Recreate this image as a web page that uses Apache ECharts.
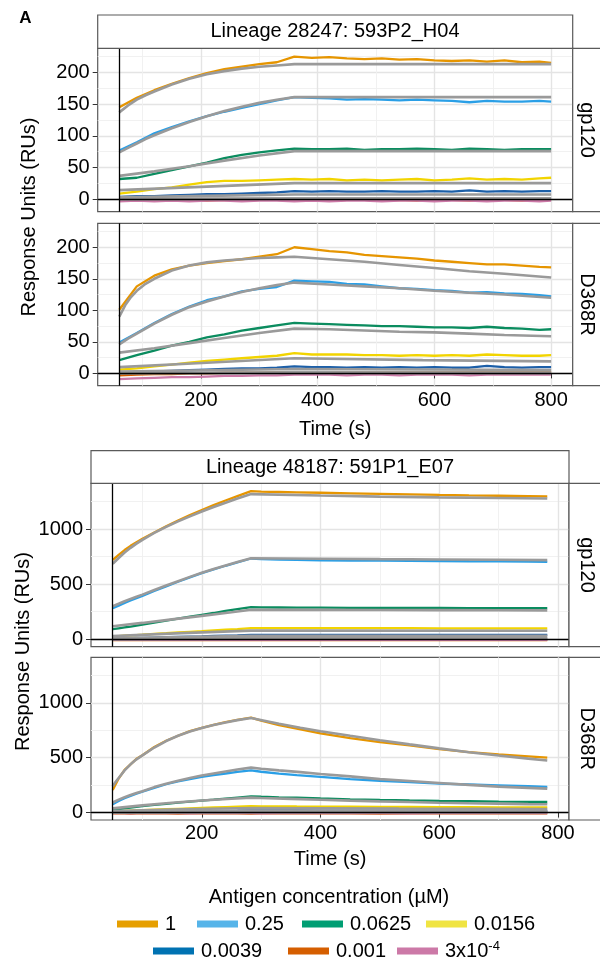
<!DOCTYPE html>
<html><head><meta charset="utf-8">
<script src="https://cdn.jsdelivr.net/npm/echarts@6/dist/echarts.min.js"></script>
<style>html,body{margin:0;padding:0;background:#fff}#c{width:600px;height:964px}</style>
</head><body><div id="c"></div>
<script>
// ---------- categories / labels ----------
const concentrations = ['1', '0.25', '0.0625', '0.0156', '0.0039', '0.001', '3x10-4'];
const lineColors = ['#E69500', '#2A9FE6', '#0B8C5F', '#F2D400', '#1C5FA8', '#D55E00', '#CC79A7'];
const keyColors  = ['#E69F00', '#56B4E9', '#009E73', '#F0E442', '#0072B2', '#D55E00', '#CC79A7'];
const lineageTop = 'Lineage 28247: 593P2_H04';
const lineageBot = 'Lineage 48187: 591P1_E07';
const antigens = ['gp120', 'D368R'];

// ---------- tick values ----------
const xTicks = [200, 400, 600, 800];
const xMinor = [100, 300, 500, 700];
const yTicksTop = [0, 50, 100, 150, 200];
const yMinorTop = [25, 75, 125, 175, 225];
const yTicksBot = [0, 500, 1000];
const yMinorBot = [250, 750, 1250];

// association start (vertical reference line)
const startTop = 60;
const startBot = 50;

// ---------- Lineage 28247 : sensorgram times ----------
const tTop = [60,90,120,150,180,210,240,270,300,330,360,390,420,450,480,510,540,570,600,630,660,690,720,750,780,800];

// gp120 measured (one row per concentration)
const topGp120Data = [
  [145,160,172,182,191,199,205,209,213,216,225,223,224,222,221,222,220,221,219,218,219,217,219,216,217,215],
  [77,90,104,114,123,131,138,144,150,156,161,160,159,157,158,157,156,157,156,155,153,155,154,154,155,154],
  [32,34,40,46,52,58,65,70,74,77,80,79,79,80,78,79,79,80,79,78,80,79,78,79,79,79],
  [9,12,16,19,23,27,29,29,30,31,32,31,32,30,31,30,31,32,30,31,33,31,32,31,33,34],
  [4,5,5,6,7,8,8,9,10,11,13,12,13,12,12,13,12,12,13,12,14,12,13,12,13,13],
  [-2,-1,-2,-1,-1,-2,-1,-2,-1,-1,-2,-1,-2,-1,-1,-2,-1,-2,-1,-1,-2,-1,-1,-2,-1,-1],
  [-3,-2,-3,-2,-3,-2,-2,-3,-2,-2,-3,-2,-3,-2,-2,-3,-2,-2,-3,-2,-2,-3,-2,-2,-3,-2]
];
const topGp120FitT = [
  [60,75,90,105,120,150,180,210,240,270,300,330,360,800],
  [60,75,90,105,120,150,180,210,240,270,300,330,360,800],
  [60,120,180,240,300,360,800],
  [60,210,360,800],
  [60,210,360,800],
  [60,360,800],
  [60,360,800]
];
const topGp120FitV = [
  [137,148,157,164,170,181,190,197,202,206,209,211,213,213],
  [74,81,88,95,101,112,122,131,139,146,152,157,161,161],
  [37,44,52,61,69,76,76],
  [14.5,20,25.5,25.5],
  [3,5.5,7.5,7.5],
  [0.5,1.5,1.5],
  [0.2,0.8,0.8]
];

// D368R measured
const topD368RData = [
  [101,138,155,165,171,175,178,181,185,189,200,197,194,192,188,186,184,182,179,177,175,173,173,171,169,168],
  [49,64,80,94,106,116,122,130,134,137,147,146,145,142,141,138,135,134,132,131,128,129,127,126,124,122],
  [21,29,36,44,50,57,62,68,72,76,80,79,78,77,76,75,75,74,73,73,72,74,72,71,69,70],
  [6,8,11,14,17,20,22,24,26,28,32,30,30,30,29,29,28,29,28,29,28,30,29,28,28,29],
  [1,2,3,4,5,6,7,8,8,9,11,10,10,9,10,9,10,9,10,9,9,12,10,9,10,10],
  [-3,-2,-1,-1,0,0,1,1,1,2,2,2,2,2,2,2,2,2,2,2,2,2,2,2,2,2],
  [-9,-8,-7,-6,-6,-5,-4,-4,-3,-3,-2,-2,-2,-3,-2,-2,-3,-2,-2,-2,-3,-2,-2,-2,-2,-2]
];
const topD368RFitT = [
  [60,70,80,90,105,120,150,180,210,240,270,300,330,360,420,480,540,600,660,720,800],
  [60,75,90,105,120,150,180,210,240,270,300,330,360,420,480,540,600,660,720,800],
  [60,120,180,240,300,360,420,480,540,600,660,720,800],
  [60,210,360,580,800],
  [60,210,360,580,800],
  [60,360,800],
  [60,360,800]
];
const topD368RFitV = [
  [90,108,121,131,142,150,163,171,176,179,181,183,184,185,181,177,172,167,162,158,152],
  [46,55,63,71,79,93,105,114,122,129,135,140,144,141,138,135,131,128,125,120],
  [33,40,48,56,64,71,70,68,66,65,63,61,59],
  [10,17,24,21,19],
  [3,5,7,6.3,5.5],
  [0.5,1.8,1.5],
  [0.2,0.6,0.5]
];

// ---------- Lineage 48187 ----------
const tBot = [50,60,70,80,90,100,120,140,160,180,200,220,240,260,283,300,330,360,400,450,500,550,600,650,700,750,782];

const botGp120Data = [
  [720,765,810,848,880,912,970,1025,1078,1128,1173,1218,1260,1300,1345,1340,1337,1334,1330,1325,1320,1315,1310,1306,1303,1300,1297],
  [282,305,330,352,373,394,438,480,522,562,600,635,667,698,733,727,723,720,717,715,713,711,710,708,707,705,703],
  [91,99,107,115,124,132,150,168,186,204,221,238,258,274,291,289,288,287,286,285,285,284,284,283,283,282,282],
  [25,28,32,35,38,41,48,54,61,67,73,80,86,92,100,100,100,100,100,100,100,100,99,99,99,99,99],
  [5,6,8,9,11,12,15,18,21,24,26,29,32,35,40,40,40,40,40,40,40,40,40,40,40,40,40],
  [-7,-8,-8,-9,-8,-7,-8,-8,-9,-8,-8,-7,-8,-9,-8,-8,-7,-8,-8,-9,-8,-8,-7,-8,-8,-9,-8],
  [-5,-5,-6,-5,-4,-5,-5,-6,-5,-5,-4,-5,-5,-6,-5,-5,-5,-4,-5,-6,-5,-5,-5,-4,-5,-5,-5]
];
const botGp120FitT = [
  [50,60,70,80,90,100,120,140,160,180,200,220,240,260,283,400,500,600,700,782],
  [50,60,70,80,90,100,120,140,160,180,200,220,240,260,283,400,500,600,700,782],
  [50,100,150,200,250,283,400,500,600,700,782],
  [50,166,283,782],
  [50,283,782],
  [50,283,782],
  [50,283,782]
];
const botGp120FitV = [
  [685,738,787,830,868,903,965,1020,1070,1116,1160,1200,1240,1278,1318,1305,1295,1288,1282,1278],
  [300,322,345,366,386,405,447,487,527,566,603,638,670,701,735,731,727,724,721,718],
  [118,148,180,212,245,267,266,265,264,263,262],
  [28,55,78,77],
  [8,30,30],
  [3,10,10],
  [1,4,4]
];

const botD368RData = [
  [205,310,390,440,490,522,598,655,700,742,773,800,825,846,866,838,798,766,722,678,643,612,578,552,530,512,500],
  [75,105,130,152,172,190,225,258,285,305,325,341,356,370,385,372,355,342,325,305,290,278,264,256,248,240,233],
  [25,32,39,46,52,58,70,80,90,99,108,117,127,137,148,144,139,135,128,121,115,110,106,103,100,98,96],
  [10,12,14,17,19,21,26,30,34,38,42,46,50,54,58,57,56,55,54,53,52,51,50,49,48,48,47],
  [3,4,5,5,6,7,8,9,10,12,13,14,16,17,20,19,19,19,18,18,18,17,17,17,16,16,16],
  [-8,-7,-8,-9,-8,-8,-7,-8,-9,-8,-8,-8,-7,-8,-9,-8,-8,-7,-8,-8,-9,-8,-8,-7,-8,-8,-8],
  [-6,-5,-6,-7,-6,-6,-5,-6,-6,-7,-6,-5,-6,-6,-6,-7,-6,-5,-6,-6,-6,-7,-6,-6,-5,-6,-6]
];
const botD368RFitT = [
  [50,55,60,70,80,90,100,120,140,160,180,200,220,240,260,283,330,366,400,450,500,550,600,650,700,750,782],
  [50,60,70,80,90,100,120,140,160,180,200,220,240,260,283,300,330,366,400,450,500,550,600,650,700,750,782],
  [50,100,150,200,250,283,300,350,400,450,500,550,600,650,700,750,782],
  [50,166,283,532,782],
  [50,166,283,532,782],
  [50,283,782],
  [50,283,782]
];
const botD368RFitV = [
  [240,280,315,385,440,485,522,593,652,700,740,772,798,822,843,862,810,773,742,700,660,622,585,550,520,492,475],
  [92,118,140,160,178,195,232,262,290,315,338,356,374,392,410,400,385,369,352,330,305,288,270,252,236,225,218],
  [38,65,90,110,126,136,133,125,117,109,102,96,90,85,81,77,75],
  [14,30,42,37,33],
  [4,11,17,15,14],
  [2,8,7],
  [1,3,3]
];

// ---------- layout ----------
const FONT = "'Liberation Sans', Arial, Helvetica, sans-serif";
const BORDER = '#5a5a5a';
const panels = [
  {left: 97.7, top: 48.3, width: 475, height: 163.4, xr: [23, 837], yr: [-19.5, 238], showX: false, yt: yTicksTop, ym: yMinorTop},
  {left: 97.7, top: 223.3, width: 475, height: 162.4, xr: [23, 837], yr: [-19.5, 238], showX: true, yt: yTicksTop, ym: yMinorTop, gap: 34, lm: 5},
  {left: 91, top: 483.3, width: 478, height: 163.4, xr: [13.4, 818.6], yr: [-68, 1416], showX: false, yt: yTicksBot, ym: yMinorBot},
  {left: 91, top: 657.3, width: 478, height: 162.7, xr: [13.4, 818.6], yr: [-68, 1416], showX: true, yt: yTicksBot, ym: yMinorBot, gap: 29, lm: 3}
];
const plainNum = v => String(v);

const grid = [], xAxis = [], yAxis = [], series = [];
panels.forEach((p, gi) => {
  grid.push({left: p.left, top: p.top, width: p.width, height: p.height, show: true,
    backgroundColor: '#fff', borderColor: BORDER, borderWidth: 1.2});
  // main x axis
  xAxis.push({type: 'value', gridIndex: gi, min: p.xr[0], max: p.xr[1], position: 'bottom',
    axisLine: {show: false},
    axisTick: {show: p.showX, length: 5, lineStyle: {color: '#333', width: 1}, customValues: xTicks},
    axisLabel: {show: p.showX, customValues: xTicks, formatter: plainNum, fontSize: 20, color: '#000', fontFamily: FONT, margin: p.lm || 4},
    splitLine: {show: true, lineStyle: {color: '#e4e4e4', width: 1.4}},
    name: p.showX ? 'Time (s)' : '', nameLocation: 'middle', nameGap: p.gap || 30,
    nameTextStyle: {fontSize: 20, color: '#000', fontFamily: FONT}
  });
  // minor x grid
  xAxis.push({type: 'value', gridIndex: gi, min: p.xr[0], max: p.xr[1], position: 'top',
    axisLine: {show: false}, axisTick: {show: false, customValues: xMinor},
    axisLabel: {show: false, customValues: xMinor},
    splitLine: {show: true, lineStyle: {color: '#efefef', width: 0.9}}
  });
  yAxis.push({type: 'value', gridIndex: gi, min: p.yr[0], max: p.yr[1], position: 'left',
    axisLine: {show: false},
    axisTick: {show: true, length: 5, lineStyle: {color: '#333', width: 1}, customValues: p.yt},
    axisLabel: {show: true, customValues: p.yt, formatter: plainNum, fontSize: 20, color: '#000', fontFamily: FONT, margin: 8},
    splitLine: {show: true, lineStyle: {color: '#e4e4e4', width: 1.4}}
  });
  yAxis.push({type: 'value', gridIndex: gi, min: p.yr[0], max: p.yr[1], position: 'right',
    axisLine: {show: false}, axisTick: {show: false, customValues: p.ym},
    axisLabel: {show: false, customValues: p.ym},
    splitLine: {show: true, lineStyle: {color: '#efefef', width: 0.9}}
  });
});

function addPanel(gi, tArr, dataRows, fitT, fitV, vline) {
  dataRows.forEach((vals, k) => {
    series.push({type: 'line', name: concentrations[k], xAxisIndex: 2 * gi, yAxisIndex: 2 * gi,
      data: tArr.map((t, i) => [t, vals[i]]), symbol: 'none', showSymbol: false,
      color: lineColors[k], lineStyle: {color: lineColors[k], width: 2.3}, z: 2, silent: true});
  });
  fitT.forEach((ts, k) => {
    series.push({type: 'line', name: 'fit', xAxisIndex: 2 * gi, yAxisIndex: 2 * gi,
      data: ts.map((t, i) => [t, fitV[k][i]]), symbol: 'none', showSymbol: false,
      color: '#9a9a9a', lineStyle: {color: '#9a9a9a', width: 2.6}, z: 3, silent: true});
  });
  series.push({type: 'line', name: 'ref', xAxisIndex: 2 * gi, yAxisIndex: 2 * gi, data: [], z: 4,
    markLine: {silent: true, symbol: ['none', 'none'], label: {show: false},
      lineStyle: {color: '#000', width: 1.3, type: 'solid'},
      data: [{xAxis: vline}, {yAxis: 0}]}});
}
addPanel(0, tTop, topGp120Data, topGp120FitT, topGp120FitV, startTop);
addPanel(1, tTop, topD368RData, topD368RFitT, topD368RFitV, startTop);
addPanel(2, tBot, botGp120Data, botGp120FitT, botGp120FitV, startBot);
addPanel(3, tBot, botD368RData, botD368RFitT, botD368RFitV, startBot);

// ---------- legend (one block per key, two centred rows) ----------
const legendPos = [[117, 913], [197, 913], [302, 913], [426, 913], [153, 940], [288, 940], [397, 940]];
const legend = concentrations.map((c, k) => ({
  left: legendPos[k][0], top: legendPos[k][1], padding: 0, orient: 'horizontal',
  itemWidth: 41, itemHeight: 7, icon: 'rect', selectedMode: false,
  data: [{name: c, itemStyle: {color: keyColors[k]}}],
  formatter: n => n === '3x10-4' ? '3x10{s|-4}' : n,
  textStyle: {fontSize: 20, color: '#000', fontFamily: FONT, lineHeight: 22, padding: [0, 0, 0, 2],
    rich: {s: {fontSize: 13, fontFamily: FONT, color: '#000', verticalAlign: 'top', lineHeight: 14}}}
}));

// ---------- text and strips ----------
function txt(x, y, text, size, rot, weight) {
  return {type: 'text', x: x, y: y, rotation: rot || 0, z: 20,
    style: {text: text, fontSize: size, fontFamily: FONT, fontWeight: weight || 'normal', fill: '#000',
      align: 'center', verticalAlign: 'middle'}};
}
function box(x, y, w, h) {
  return {type: 'rect', z: 15, shape: {x: x, y: y, width: w, height: h},
    style: {fill: '#fff', stroke: BORDER, lineWidth: 1.2}};
}
const graphic = [
  txt(25.5, 18, 'A', 17, 0, 'bold'),
  box(97.7, 15, 475, 33.3), txt(335, 31.8, lineageTop, 20),
  box(572.7, 48.3, 45, 163.4), txt(587, 130, antigens[0], 20, -Math.PI / 2),
  box(572.7, 223.3, 45, 162.4), txt(587, 304.5, antigens[1], 20, -Math.PI / 2),
  txt(29.5, 217, 'Response Units (RUs)', 20, Math.PI / 2),
  box(91, 450.7, 478, 32.6), txt(330, 467.2, lineageBot, 20),
  box(569, 483.3, 45, 163.4), txt(587, 565, antigens[0], 20, -Math.PI / 2),
  box(569, 657.3, 45, 162.7), txt(587, 738.7, antigens[1], 20, -Math.PI / 2),
  txt(23, 651.5, 'Response Units (RUs)', 20, Math.PI / 2),
  txt(329, 897, 'Antigen concentration (µM)', 20)
];

const chart = echarts.init(document.getElementById('c'), null, {renderer: 'canvas'});
chart.setOption({
  animation: false,
  backgroundColor: '#fff',
  grid: grid, xAxis: xAxis, yAxis: yAxis, series: series, legend: legend, graphic: graphic
});
</script></body></html>
